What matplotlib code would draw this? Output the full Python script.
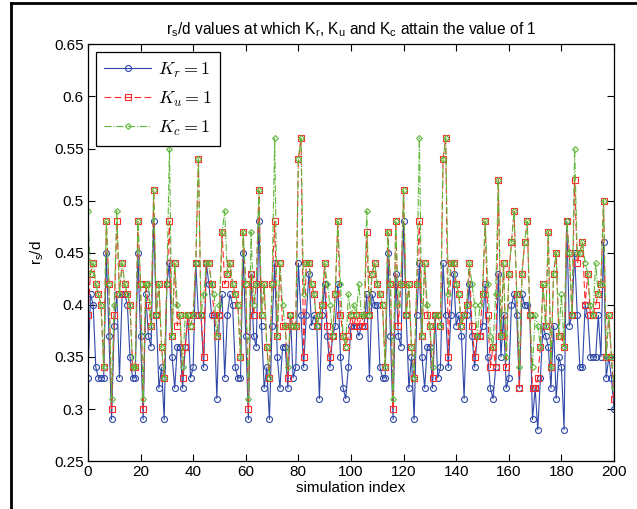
import numpy as np
import matplotlib.pyplot as plt
from matplotlib.lines import Line2D

# r_s/d at which each coefficient reaches 1, for simulation runs 0..200
K_r = [0.33, 0.41, 0.40, 0.34, 0.33, 0.33, 0.33, 0.45, 0.37, 0.29,
       0.38, 0.41, 0.33, 0.41, 0.41, 0.40, 0.35, 0.33, 0.33, 0.45,
       0.37, 0.29, 0.41, 0.37, 0.36, 0.48, 0.39, 0.32, 0.34, 0.29,
       0.42, 0.44, 0.35, 0.32, 0.36, 0.36, 0.32, 0.36, 0.39, 0.33,
       0.34, 0.44, 0.39, 0.39, 0.34, 0.44, 0.42, 0.39, 0.39, 0.31,
       0.39, 0.41, 0.33, 0.39, 0.41, 0.40, 0.34, 0.33, 0.33, 0.45,
       0.37, 0.29, 0.43, 0.37, 0.36, 0.48, 0.38, 0.32, 0.34, 0.29,
       0.38, 0.44, 0.35, 0.32, 0.36, 0.36, 0.32, 0.39, 0.33, 0.34,
       0.44, 0.39, 0.34, 0.39, 0.43, 0.38, 0.39, 0.38, 0.31, 0.39,
       0.42, 0.37, 0.34, 0.37, 0.38, 0.42, 0.35, 0.32, 0.31, 0.34,
       0.38, 0.38, 0.38, 0.37, 0.38, 0.38, 0.41, 0.33, 0.41, 0.40,
       0.40, 0.34, 0.33, 0.33, 0.45, 0.37, 0.29, 0.43, 0.37, 0.36,
       0.48, 0.39, 0.32, 0.35, 0.29, 0.39, 0.44, 0.35, 0.32, 0.36,
       0.36, 0.32, 0.39, 0.33, 0.34, 0.44, 0.39, 0.34, 0.39, 0.43,
       0.38, 0.39, 0.37, 0.31, 0.39, 0.42, 0.37, 0.34, 0.37, 0.37,
       0.38, 0.42, 0.35, 0.32, 0.31, 0.34, 0.43, 0.35, 0.39, 0.32,
       0.33, 0.40, 0.41, 0.39, 0.32, 0.41, 0.40, 0.40, 0.39, 0.29,
       0.32, 0.28, 0.33, 0.38, 0.37, 0.36, 0.32, 0.38, 0.31, 0.35,
       0.34, 0.28, 0.48, 0.38, 0.39, 0.45, 0.39, 0.34, 0.34, 0.40,
       0.39, 0.35, 0.35, 0.35, 0.39, 0.35, 0.46, 0.33, 0.35, 0.33,
       0.30]

K_u = [0.39, 0.43, 0.44, 0.42, 0.41, 0.40, 0.34, 0.48, 0.42, 0.30,
       0.39, 0.48, 0.41, 0.44, 0.42, 0.41, 0.40, 0.34, 0.34, 0.48,
       0.42, 0.30, 0.42, 0.40, 0.38, 0.51, 0.39, 0.42, 0.36, 0.33,
       0.42, 0.48, 0.37, 0.44, 0.38, 0.39, 0.33, 0.36, 0.39, 0.38,
       0.39, 0.44, 0.54, 0.39, 0.35, 0.44, 0.44, 0.42, 0.39, 0.37,
       0.39, 0.47, 0.42, 0.43, 0.44, 0.42, 0.41, 0.40, 0.35, 0.47,
       0.42, 0.30, 0.43, 0.39, 0.42, 0.51, 0.39, 0.42, 0.36, 0.33,
       0.42, 0.48, 0.37, 0.44, 0.38, 0.38, 0.33, 0.39, 0.38, 0.38,
       0.54, 0.56, 0.35, 0.44, 0.44, 0.42, 0.41, 0.38, 0.39, 0.40,
       0.44, 0.38, 0.35, 0.37, 0.41, 0.48, 0.39, 0.37, 0.36, 0.37,
       0.39, 0.38, 0.39, 0.38, 0.39, 0.38, 0.47, 0.39, 0.43, 0.44,
       0.42, 0.41, 0.40, 0.34, 0.47, 0.42, 0.30, 0.48, 0.38, 0.42,
       0.51, 0.39, 0.42, 0.36, 0.33, 0.42, 0.48, 0.37, 0.44, 0.39,
       0.38, 0.33, 0.39, 0.39, 0.38, 0.54, 0.56, 0.35, 0.44, 0.44,
       0.42, 0.41, 0.38, 0.39, 0.40, 0.44, 0.38, 0.35, 0.37, 0.37,
       0.41, 0.48, 0.39, 0.34, 0.36, 0.34, 0.52, 0.37, 0.44, 0.34,
       0.43, 0.46, 0.49, 0.41, 0.32, 0.43, 0.46, 0.48, 0.39, 0.32,
       0.32, 0.33, 0.36, 0.42, 0.38, 0.47, 0.34, 0.43, 0.45, 0.37,
       0.37, 0.36, 0.48, 0.45, 0.39, 0.52, 0.44, 0.45, 0.46, 0.40,
       0.43, 0.39, 0.39, 0.40, 0.41, 0.42, 0.50, 0.35, 0.39, 0.35,
       0.31]

K_c = [0.49, 0.43, 0.44, 0.42, 0.41, 0.40, 0.34, 0.48, 0.42, 0.31,
       0.40, 0.49, 0.41, 0.44, 0.42, 0.41, 0.40, 0.34, 0.34, 0.48,
       0.42, 0.31, 0.42, 0.42, 0.38, 0.51, 0.39, 0.42, 0.36, 0.33,
       0.42, 0.55, 0.37, 0.44, 0.40, 0.39, 0.34, 0.39, 0.39, 0.38,
       0.39, 0.44, 0.54, 0.39, 0.41, 0.44, 0.44, 0.42, 0.41, 0.37,
       0.40, 0.47, 0.49, 0.43, 0.44, 0.42, 0.41, 0.40, 0.35, 0.47,
       0.42, 0.31, 0.47, 0.40, 0.42, 0.51, 0.39, 0.42, 0.36, 0.33,
       0.42, 0.56, 0.37, 0.44, 0.40, 0.38, 0.34, 0.39, 0.38, 0.38,
       0.54, 0.56, 0.41, 0.44, 0.44, 0.42, 0.41, 0.38, 0.39, 0.40,
       0.44, 0.42, 0.40, 0.37, 0.41, 0.48, 0.42, 0.37, 0.36, 0.41,
       0.39, 0.40, 0.39, 0.42, 0.39, 0.39, 0.49, 0.39, 0.43, 0.44,
       0.42, 0.41, 0.40, 0.34, 0.47, 0.42, 0.31, 0.48, 0.40, 0.42,
       0.51, 0.39, 0.42, 0.36, 0.33, 0.42, 0.56, 0.37, 0.44, 0.40,
       0.38, 0.34, 0.39, 0.39, 0.38, 0.54, 0.56, 0.41, 0.44, 0.44,
       0.42, 0.41, 0.38, 0.39, 0.40, 0.44, 0.42, 0.40, 0.37, 0.40,
       0.41, 0.48, 0.42, 0.37, 0.36, 0.41, 0.52, 0.37, 0.44, 0.35,
       0.43, 0.46, 0.49, 0.41, 0.34, 0.43, 0.46, 0.48, 0.39, 0.34,
       0.39, 0.38, 0.36, 0.42, 0.38, 0.47, 0.34, 0.43, 0.45, 0.37,
       0.41, 0.36, 0.48, 0.45, 0.39, 0.55, 0.45, 0.45, 0.46, 0.44,
       0.43, 0.40, 0.39, 0.44, 0.41, 0.42, 0.50, 0.35, 0.39, 0.35,
       0.32]

x_ticks = list(range(0, 201, 20))
y_ticks = [0.25, 0.3, 0.35, 0.4, 0.45, 0.5, 0.55, 0.6, 0.65]
y_ticklabels = ["0.25", "0.3", "0.35", "0.4", "0.45", "0.5", "0.55", "0.6", "0.65"]

BLUE = "#2f48a8"
RED = "#ff2a2a"
GREEN = "#5fb83a"


def main():
    plt.rcParams["font.family"] = ["Liberation Sans", "DejaVu Sans"]
    plt.rcParams["mathtext.fontset"] = "cm"

    fig = plt.figure(figsize=(6.37, 5.09), dpi=100)
    ax = fig.add_axes([0.138, 0.094, 0.826, 0.819])

    idx = np.arange(len(K_r))
    ax.plot(idx, K_r, "-", color=BLUE, lw=0.8, marker="o", ms=4.3,
            mfc="none", mec=BLUE, mew=0.8, label=r"$K_r = 1$")
    ax.plot(idx, K_u, "--", color=RED, lw=0.8, marker="s", ms=4.3,
            mfc="none", mec=RED, mew=0.8, dashes=(6, 3), label=r"$K_u = 1$")
    ax.plot(idx, K_c, "-.", color=GREEN, lw=0.8, marker="D", ms=3.0,
            mfc="none", mec=GREEN, mew=0.8, label=r"$K_c = 1$")

    ax.set_xlim(0, 200)
    ax.set_ylim(0.25, 0.65)
    ax.set_xticks(x_ticks)
    ax.set_yticks(y_ticks)
    ax.set_yticklabels(y_ticklabels)
    ax.tick_params(direction="in", top=True, right=True, labelsize=11,
                   length=5, width=0.8, pad=3)
    for s in ax.spines.values():
        s.set_linewidth(0.9)

    ax.set_xlabel("simulation index", fontsize=11, labelpad=1)
    ax.set_ylabel(r"$\mathregular{r_s/d}$", fontsize=11, labelpad=6)
    ax.set_title(r"$\mathregular{r_s/d}$ values at which $\mathregular{K_r}$, "
                 r"$\mathregular{K_u}$ and $\mathregular{K_c}$ attain the value of 1",
                 fontsize=11.2, pad=7)

    leg = ax.legend(loc="upper left", fontsize=13, handlelength=2.6,
                    labelspacing=0.55, borderaxespad=0.45, fancybox=False,
                    framealpha=1, edgecolor="black", handletextpad=0.4,
                    borderpad=0.45)
    leg.get_frame().set_linewidth(0.9)

    # frame lines along the top and left edges of the figure
    fig.add_artist(Line2D([0.017, 1.0], [0.994, 0.994], color="black", lw=2,
                          transform=fig.transFigure))
    fig.add_artist(Line2D([0.017, 0.017], [0.0, 0.994], color="black", lw=2,
                          transform=fig.transFigure))

    fig.savefig("out.png", dpi=100)


if __name__ == "__main__":
    main()
